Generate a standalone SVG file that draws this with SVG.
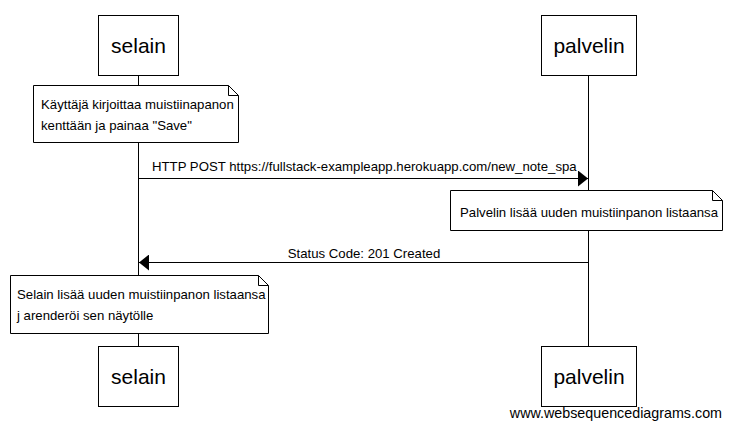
<svg xmlns="http://www.w3.org/2000/svg" width="731" height="428" viewBox="0 0 731 428">
<defs>
<style>
.box{fill:#fff;stroke:#000;stroke-width:1}
.note{fill:#fff;stroke:#000;stroke-width:1}
.line{stroke:#000;stroke-width:1;fill:none}
.t{font-family:"Liberation Sans",Arial,sans-serif;fill:#000}
.big{font-size:21px;text-anchor:middle}
.sm{font-size:13.2px}
</style>
<marker id="ah" viewBox="0 0 10 16" refX="10" refY="8" markerWidth="10" markerHeight="16" markerUnits="userSpaceOnUse" orient="auto">
<path d="M0,0 L10,8 L0,16 z" fill="#000"/>
</marker>
</defs>
<rect width="731" height="428" fill="#fff"/>
<g id="lifelines">
<line class="line" x1="138.5" y1="75" x2="138.5" y2="347"/>
<line class="line" x1="588.5" y1="75" x2="588.5" y2="347"/>
</g>
<g id="selain-top"><rect class="box" x="98.5" y="15.5" width="80" height="60"/><text class="t big" x="138.5" y="53">selain</text></g>
<g id="palvelin-top"><rect class="box" x="541.5" y="15.5" width="95" height="60"/><text class="t big" x="589" y="53">palvelin</text></g>
<g id="note1"><path class="note" d="M33.5,85.5 H228.5 L238.5,95.5 V142.5 H33.5 Z M228.5,85.5 V95.5 H238.5"/><text class="t sm" x="41" y="109">Käyttäjä kirjoittaa muistiinapanon</text><text class="t sm" x="41" y="130">kenttään ja painaa "Save"</text></g>
<g id="note2"><path class="note" d="M450.5,190.5 H712.5 L722.5,200.5 V230.5 H450.5 Z M712.5,190.5 V200.5 H722.5"/><text class="t sm" x="460" y="217">Palvelin lisää uuden muistiinpanon listaansa</text></g>
<g id="note3"><path class="note" d="M10.5,275.5 H258.5 L268.5,285.5 V333.5 H10.5 Z M258.5,275.5 V285.5 H268.5"/><text class="t sm" x="17" y="299">Selain lisää uuden muistiinpanon listaansa</text><text class="t sm" x="17" y="320">j arenderöi sen näytölle</text></g>
<g id="connectors">
<line class="line" x1="138.5" y1="178.5" x2="588" y2="178.5" marker-end="url(#ah)"/>
<text class="t sm" x="152" y="171">HTTP POST https://fullstack-exampleapp.herokuapp.com/new_note_spa</text>
<line class="line" x1="588.5" y1="262.5" x2="139" y2="262.5" marker-end="url(#ah)"/>
<text class="t sm" x="364" y="258" text-anchor="middle">Status Code: 201 Created</text>
</g>
<g id="selain-bottom"><rect class="box" x="98.5" y="346.5" width="80" height="60"/><text class="t big" x="138.5" y="384">selain</text></g>
<g id="palvelin-bottom"><rect class="box" x="541.5" y="346.5" width="95" height="60"/><text class="t big" x="589" y="384">palvelin</text></g>
<text class="t" x="722" y="418" font-size="14.3" text-anchor="end">www.websequencediagrams.com</text>
</svg>
